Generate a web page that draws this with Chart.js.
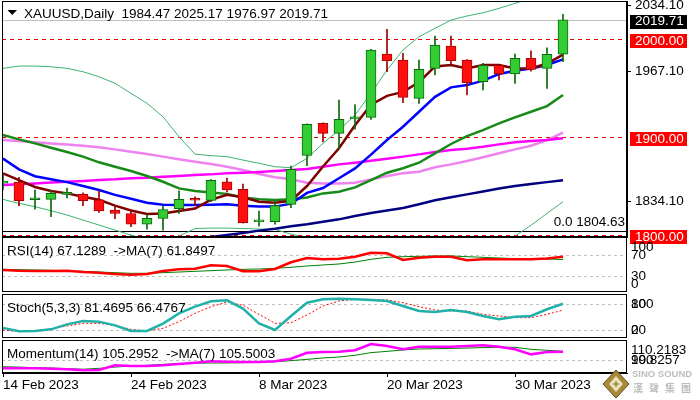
<!DOCTYPE html>
<html>
<head>
<meta charset="utf-8">
<script src="https://cdn.jsdelivr.net/npm/chart.js@4.4.0/dist/chart.umd.min.js"></script>
<style>
  body { margin: 0; background: #fff; width: 700px; height: 400px; overflow: hidden; position: relative; }
  canvas { position: absolute; left: 0; }
</style>
</head>
<body>
<canvas id="mainChart" width="700" height="252" style="top:0"></canvas>
<canvas id="rsiChart" width="700" height="57" style="top:236px"></canvas>
<canvas id="stochChart" width="700" height="46" style="top:293px"></canvas>
<canvas id="momChart" width="700" height="61" style="top:339px"></canvas>
<script>
// daily XAUUSD, 14 Feb .. 4 Apr 2023 (one entry per bar)
const opens  = [1853, 1854, 1836, 1836.4, 1841.5, 1841.5, 1836, 1825.5, 1822, 1811, 1817, 1827, 1836, 1835.4, 1854.4, 1846.6, 1813.5, 1813.6, 1831.3, 1881.3, 1914, 1903.8, 1918.5, 1920, 1984.7, 1978.6, 1939.5, 1970, 1992.9, 1978.6, 1956.4, 1973.2, 1964.3, 1980.3, 1970, 1984.47];
const highs  = [1862, 1859, 1846, 1846, 1848, 1843, 1845, 1830, 1826, 1821, 1829.6, 1845, 1839, 1856.5, 1858, 1852, 1824.5, 1835.7, 1870.4, 1913.5, 1914.5, 1937.8, 1933, 1989.5, 2009.9, 1985.4, 1978.6, 2003, 2003, 1979, 1975.2, 1973.5, 1984.7, 1988, 1991, 2025.17];
const lows   = [1846, 1830, 1826.5, 1818.7, 1838, 1830, 1823, 1816.6, 1808.5, 1806, 1805, 1822, 1830.6, 1834, 1844, 1812, 1809, 1811, 1828, 1870.7, 1895, 1888.5, 1908, 1918, 1966.6, 1935, 1934.4, 1963.3, 1974.5, 1942.9, 1948, 1958.2, 1954.8, 1967.3, 1949.7, 1976.97];
const closes = [1855, 1835, 1836.5, 1842.5, 1842, 1835, 1824.5, 1822, 1811, 1817, 1826, 1836.4, 1835.5, 1855.8, 1846, 1812.6, 1814, 1830, 1867, 1913, 1903.8, 1918, 1919, 1988.8, 1977.9, 1940.5, 1969, 1993.9, 1977.9, 1955.4, 1973.2, 1964.3, 1980.3, 1969.1, 1984.4, 2019.71];

const maFast  = [1863, 1856, 1849, 1845, 1842.5, 1839, 1836, 1830, 1825, 1821.5, 1822, 1824.5, 1827, 1836, 1841, 1838.5, 1834, 1833, 1835, 1850, 1870, 1888.5, 1912, 1933, 1942, 1946, 1956, 1972, 1973.5, 1970, 1973.5, 1973.5, 1970, 1970, 1975, 1984];
const maBlue  = [1878, 1867, 1860, 1857, 1854, 1850, 1846, 1841, 1837, 1833, 1831, 1830.6, 1830.6, 1831, 1831.3, 1830, 1829, 1829, 1832, 1843, 1848, 1858, 1868, 1882, 1897, 1910.5, 1925.8, 1941, 1950.7, 1953, 1957.5, 1964.3, 1967.7, 1970, 1973.5, 1979.3];
const maMid   = [1902, 1897.6, 1893.5, 1889, 1884.7, 1880, 1874.2, 1869.7, 1865.3, 1860.2, 1854.4, 1847.6, 1845, 1843.5, 1842, 1838.4, 1836.4, 1835.7, 1836.4, 1838.4, 1842.5, 1844.2, 1848.6, 1856.1, 1863.6, 1868.1, 1873.8, 1883.4, 1892.9, 1901, 1907.1, 1914, 1920.1, 1925.8, 1931.6, 1942.9];
const maViolet = [1897, 1896, 1894.6, 1893.5, 1892.5, 1891.1, 1889.5, 1887.4, 1885, 1882.7, 1880, 1877.3, 1874.8, 1872.4, 1869.7, 1866.3, 1862.2, 1859, 1857, 1853.4, 1852.7, 1852.7, 1853.4, 1856.8, 1860.2, 1863, 1864.6, 1869.1, 1872.1, 1875.5, 1879.3, 1883.4, 1887.4, 1891.1, 1896.9, 1904.4];
const maMagenta = [1851, 1851.7, 1852.7, 1853.7, 1854.4, 1855.1, 1856.1, 1856.8, 1857.9, 1858.5, 1859.5, 1860.2, 1861.2, 1861.9, 1863, 1863.6, 1864.3, 1865.3, 1866.3, 1867.3, 1869.7, 1872.1, 1873.8, 1875.8, 1877.9, 1880, 1882.3, 1884.7, 1886.7, 1888.1, 1890.1, 1892.5, 1894.6, 1895.9, 1896.9, 1898.7];
const maNavy  = [null, null, null, null, null, null, null, null, null, null, null, 1793.5, 1795.5, 1798, 1800, 1802, 1804.5, 1806.5, 1809, 1811, 1813.5, 1816, 1819.5, 1822.5, 1825, 1827.5, 1831.5, 1835.5, 1838.5, 1841.5, 1844.5, 1847.5, 1850, 1852, 1854, 1856];
const bandUpper = [1970.1, 1972.4, 1972.4, 1971.7, 1970.1, 1966.6, 1961.5, 1954.8, 1944.6, 1934.4, 1920.7, 1900.3, 1882.5, 1881, 1880, 1876.5, 1873.2, 1869.7, 1868.7, 1878.3, 1893.5, 1907.1, 1922.4, 1944.6, 1968.4, 1988.8, 2002.3, 2010.9, 2019.4, 2023.5, 2026.8, 2031.3, 2036.4, 2041.6, 2043, 2052];
const bandLower = [1836.4, 1832.3, 1828.9, 1824.8, 1820.4, 1815.3, 1810.2, 1805.1, 1800, 1795, 1793, 1799, 1806.6, 1807.1, 1807.1, 1806.6, 1806.1, 1805.6, 1801, 1797, 1791.5, 1781, 1775, 1767.6, 1758.8, 1747, 1745, 1756, 1766, 1778.5, 1787, 1790, 1799, 1810, 1822, 1834];

const rsiLine  = [41.6, 40.3, 39.7, 39.7, 40.3, 37.7, 36.4, 33.8, 32.5, 33.8, 39.7, 42.9, 44.1, 50.7, 49.3, 39.2, 39.2, 43.5, 56.5, 64.8, 62.2, 63.4, 67.3, 75, 73.9, 60.9, 65.4, 67.3, 67.3, 60.3, 62.2, 62.2, 62.2, 62.2, 64, 67.1289];
const rsiMa    = [42.9, 42.2, 41.6, 41, 39.7, 39, 37.7, 36.4, 35.2, 35.2, 36.4, 37.7, 39, 40.3, 41.6, 42.9, 43.5, 44.8, 46.8, 49.3, 51.3, 53.2, 57, 62.2, 66.1, 67.3, 68, 68.7, 68.7, 67.3, 66.1, 64.8, 63.4, 63.4, 62.8, 61.8497];
const stochMain   = [25, 17, 17.8, 21.6, 33.3, 41.1, 39.6, 31, 17.8, 17.8, 34.9, 59, 74.6, 87.1, 89.5, 70, 35.7, 20.1, 52.8, 83.9, 91.8, 93.3, 91.8, 90.2, 87.9, 76.2, 64.5, 62.1, 66.8, 62.1, 52.8, 45, 51.2, 52.8, 68.5, 81.4695];
const stochSignal = [20.1, 16.1, 17.8, 23.2, 29.4, 35.7, 35.7, 31, 21.6, 17.8, 24, 39.6, 59, 74.6, 85.5, 77.7, 56.7, 35.7, 37.2, 55.2, 76.2, 87.9, 91.8, 91.8, 90.2, 83.9, 74.6, 66.8, 64.5, 64.5, 56.7, 52.8, 48.9, 48.9, 56.7, 66.4767];
const momLine = [94.7, 94.7, 94.7, 94.5, 94.1, 93.4, 93.6, 96.6, 96.2, 96.2, 96.6, 97.5, 98.3, 99.2, 98.9, 98.7, 98.7, 99.2, 100.8, 104.6, 105.1, 105.3, 106.2, 110.2, 108.9, 106.8, 108.5, 108.5, 108.5, 108.9, 109.4, 108.5, 106.8, 103.6, 105.1, 105.2952];
const momMa   = [95.7, 95.5, 95.1, 94.9, 94.5, 94.1, 94.7, 95.5, 96.2, 96.6, 97.2, 97.7, 97.9, 98.1, 98.1, 98.3, 98.5, 98.9, 99.6, 100.4, 101.3, 101.9, 103, 104.7, 105.5, 106.4, 107, 107.2, 107.4, 107.6, 107.9, 108.1, 108.1, 106.8, 106.2, 105.5003];

const dateTickIdx = [0, 8, 16, 24, 32];
const dateTickLabels = ['14 Feb 2023', '24 Feb 2023', '8 Mar 2023', '20 Mar 2023', '30 Mar 2023'];
const priceTicks = [2034.10, 1967.10, 1834.10];
const priceLevels = [2000, 1900, 1800];
const lastPrice = 2019.71;
const fibLevel = 1804.63;
const rsiLevels = [70, 30];
const rsiTicks = [100, 70, 30, 0];
const stochLevels = [80, 20];
const stochTicks = [100, 80, 20, 0];
const momLevels = [100];
const momTicks = [110.2183, 100, 99.8257];

const FONT_FAMILY = '"Liberation Sans", Arial, sans-serif';
const FONT = '13.5px ' + FONT_FAMILY;
Chart.defaults.font.family = FONT_FAMILY;
Chart.defaults.font.size = 13.5;
Chart.defaults.color = '#000';

const pts = arr => arr.map((v, i) => ({ x: i, y: v }));
const isUp = i => closes[i] >= opens[i];
const X_MIN = -0.0625, X_MAX = 39.0;

function xScale(show) {
  return {
    type: 'linear', min: X_MIN, max: X_MAX, offset: false, display: show,
    afterBuildTicks: s => { s.ticks = dateTickIdx.map(v => ({ value: v })); },
    afterFit: s => { if (show) s.height = 27; s.paddingLeft = 0; s.paddingRight = 0; },
    ticks: { autoSkip: false, maxRotation: 0, align: 'start', padding: 0, font: { size: 13.5 },
             callback: (v, i) => dateTickLabels[i] },
    grid: { drawOnChartArea: false, offset: false, tickLength: 4, color: '#000' },
    border: { color: '#000' }
  };
}

const frame = { id: 'frame', afterDraw(c) {
  const a = c.chartArea, ctx = c.ctx;
  ctx.save(); ctx.strokeStyle = '#000'; ctx.lineWidth = 1;
  ctx.strokeRect(Math.round(a.left) + 0.5, Math.round(a.top) + 0.5, Math.round(a.right - a.left) - 1, Math.round(a.bottom - a.top) - 1);
  ctx.restore();
}};

function hLines(list) {
  return { id: 'hlines', beforeDatasetsDraw(c) {
    const a = c.chartArea, ctx = c.ctx, y = c.scales.y;
    ctx.save();
    list.forEach(l => {
      const py = Math.round(y.getPixelForValue(l.v)) + 0.5;
      ctx.strokeStyle = l.color; ctx.lineWidth = 1; ctx.setLineDash(l.dash || []);
      ctx.beginPath(); ctx.moveTo(a.left, py); ctx.lineTo(a.right, py); ctx.stroke();
    });
    ctx.restore();
  }};
}

function panelText(title, tickVals, tickText) {
  return { id: 'panelText', afterDraw(c) {
    const a = c.chartArea, ctx = c.ctx, y = c.scales.y;
    ctx.save(); ctx.font = FONT; ctx.fillStyle = '#000'; ctx.textBaseline = 'middle';
    ctx.fillText(title, 7, a.top + 14);
    tickVals.forEach((v, i) => {
      let py = y.getPixelForValue(v);
      py = Math.min(Math.max(py, a.top + 10), a.bottom - 8);
      ctx.fillText(tickText[i], a.right + 4, py);
    });
    ctx.restore();
  }};
}

const mainDeco = { id: 'mainDeco', afterDraw(c) {
  const a = c.chartArea, ctx = c.ctx, y = c.scales.y;
  ctx.save(); ctx.font = FONT; ctx.textBaseline = 'middle'; ctx.fillStyle = '#000';
  ctx.beginPath(); ctx.moveTo(7.5, 10); ctx.lineTo(17, 10); ctx.lineTo(12.25, 15); ctx.closePath(); ctx.fill();
  ctx.fillText('XAUUSD,Daily  ' + [opens[35], highs[35], lows[35], closes[35]].map(v => v.toFixed(2)).join(' '), 24, 14);
  ctx.textAlign = 'right';
  ctx.fillText('0.0 ' + fibLevel.toFixed(2), a.right - 2, y.getPixelForValue(fibLevel) - 8);
  ctx.textAlign = 'left';
  [[lastPrice, '#000'], ...priceLevels.map(v => [v, '#ff0000'])].forEach(([v, col]) => {
    const py = y.getPixelForValue(v);
    ctx.fillStyle = col; ctx.fillRect(a.right + 3, Math.round(py) - 5, 57, 14);
    ctx.fillStyle = '#fff'; ctx.fillText(v.toFixed(2), a.right + 8, py + 2);
  });
  ctx.restore();
}};

const logo = { id: 'logo', afterDraw(c) {
  const ctx = c.ctx, cx = 616, cy = 45;
  ctx.save();
  ctx.beginPath(); ctx.moveTo(cx, cy - 14); ctx.lineTo(cx + 13, cy); ctx.lineTo(cx, cy + 14); ctx.lineTo(cx - 13, cy); ctx.closePath();
  ctx.fillStyle = '#a8893a'; ctx.fill(); ctx.strokeStyle = '#5c4a1c'; ctx.stroke();
  ctx.beginPath(); ctx.moveTo(cx, cy - 8); ctx.lineTo(cx + 7, cy); ctx.lineTo(cx, cy + 8); ctx.lineTo(cx - 7, cy); ctx.closePath();
  ctx.fillStyle = '#e9e0b8'; ctx.fill();
  ctx.fillStyle = '#7a6a30'; ctx.fillRect(cx - 3, cy - 0.5, 6, 1); ctx.fillRect(cx - 0.5, cy - 3, 1, 6);
  ctx.fillStyle = '#bdbdbd'; ctx.font = 'bold 9.5px ' + FONT_FAMILY; ctx.textBaseline = 'middle';
  ctx.fillText('SINO SOUND', 632, 35);
  ctx.font = 'bold 10px "Noto Sans CJK TC", sans-serif';
  ['漢', '聲', '集', '團'].forEach((ch, i) => ctx.fillText(ch, 633 + i * 16, 49));
  ctx.restore();
}};

const lineDs = (data, color, width, extra) => Object.assign({
  type: 'line', data: pts(data), borderColor: color, borderWidth: width,
  pointRadius: 0, tension: 0, fill: false, spanGaps: false, order: 5
}, extra || {});

const baseOptions = (yOpts, xShow, pad) => ({
  responsive: false, animation: false, devicePixelRatio: 1,
  layout: { padding: pad },
  plugins: { legend: { display: false }, tooltip: { enabled: false } },
  scales: { x: xScale(xShow), y: yOpts }
});

// main price panel
new Chart(document.getElementById('mainChart'), {
  type: 'line',
  data: { datasets: [
    { type: 'bar', data: opens.map((o, i) => ({ x: i, y: [o, closes[i]] })),
      backgroundColor: opens.map((o, i) => isUp(i) ? '#33cc33' : '#ff1010'),
      borderColor: opens.map((o, i) => isUp(i) ? '#0a6a0a' : '#b00000'),
      borderWidth: 1, borderSkipped: false, barThickness: 10, minBarLength: 2, grouped: false, order: 0 },
    { type: 'bar', data: lows.map((l, i) => ({ x: i, y: [l, highs[i]] })),
      backgroundColor: opens.map((o, i) => isUp(i) ? '#0a6a0a' : '#a00000'),
      borderWidth: 0, barThickness: 1, grouped: false, order: 1 },
    lineDs(maFast, '#800000', 2.5, { order: 2 }),
    lineDs(maBlue, '#0000ff', 2.5, { order: 3 }),
    lineDs(maMid, '#168a16', 2.5, { order: 4 }),
    lineDs(maMagenta, '#ff00ff', 2.5),
    lineDs(maViolet, '#ee82ee', 2.5),
    lineDs(maNavy, '#000080', 2.5),
    lineDs(bandUpper, '#3cb371', 1),
    lineDs(bandLower, '#3cb371', 1)
  ]},
  options: baseOptions({
    position: 'right', min: 1798, max: 2038.8,
    afterBuildTicks: s => { s.ticks = priceTicks.map(v => ({ value: v })); },
    afterFit: s => { s.width = 73; s.paddingTop = 0; s.paddingBottom = 0; },
    ticks: { callback: v => v.toFixed(2), padding: 4, font: { size: 13.5 } },
    grid: { drawOnChartArea: false, tickLength: 4, color: '#000' },
    border: { color: '#000' }
  }, false, { left: 2, top: 1, right: 0, bottom: 15 }),
  plugins: [hLines([
    ...priceLevels.map(v => ({ v, color: '#e00000', dash: [4, 4] })),
    { v: lastPrice, color: '#c0c0c0' },
    { v: fibLevel, color: '#000' }
  ]), frame, mainDeco]
});

// RSI panel
new Chart(document.getElementById('rsiChart'), {
  type: 'line',
  data: { datasets: [
    lineDs(rsiLine, '#ff0000', 2.5, { order: 1 }),
    lineDs(rsiMa, '#008000', 1, { order: 2 })
  ]},
  options: baseOptions({ display: false, min: -0.97, max: 105.4 }, false, { left: 2, top: 1, right: 73, bottom: 1 }),
  plugins: [hLines(rsiLevels.map(v => ({ v, color: '#c0c0c0', dash: [3, 3] }))), frame,
    panelText('RSI(14) ' + rsiLine[35].toFixed(4) + '  ->MA(7) ' + rsiMa[35].toFixed(4), rsiTicks, rsiTicks.map(String))]
});

// Stochastic panel
new Chart(document.getElementById('stochChart'), {
  type: 'line',
  data: { datasets: [
    lineDs(stochMain, '#20b2aa', 2.5, { order: 1 }),
    lineDs(stochSignal, '#ff0000', 1, { order: 2, borderDash: [2, 2] })
  ]},
  options: baseOptions({ display: false, min: 1.4, max: 104.2 }, false, { left: 2, top: 1, right: 73, bottom: 1 }),
  plugins: [hLines(stochLevels.map(v => ({ v, color: '#c0c0c0', dash: [3, 3] }))), frame,
    panelText('Stoch(5,3,3) ' + stochMain[35].toFixed(4) + ' ' + stochSignal[35].toFixed(4), stochTicks, stochTicks.map(String))]
});

// Momentum panel with the date axis
new Chart(document.getElementById('momChart'), {
  type: 'line',
  data: { datasets: [
    lineDs(momLine, '#ff00ff', 2.5, { order: 1 }),
    lineDs(momMa, '#008000', 1, { order: 2 })
  ]},
  options: baseOptions({ display: false, min: 91.72, max: 112.74 }, true, { left: 2, top: 1, right: 73, bottom: 0 }),
  plugins: [hLines(momLevels.map(v => ({ v, color: '#c0c0c0', dash: [3, 3] }))), frame,
    panelText('Momentum(14) ' + momLine[35].toFixed(4) + '  ->MA(7) ' + momMa[35].toFixed(4), momTicks, momTicks.map(String)),
    logo]
});
</script>
</body>
</html>
